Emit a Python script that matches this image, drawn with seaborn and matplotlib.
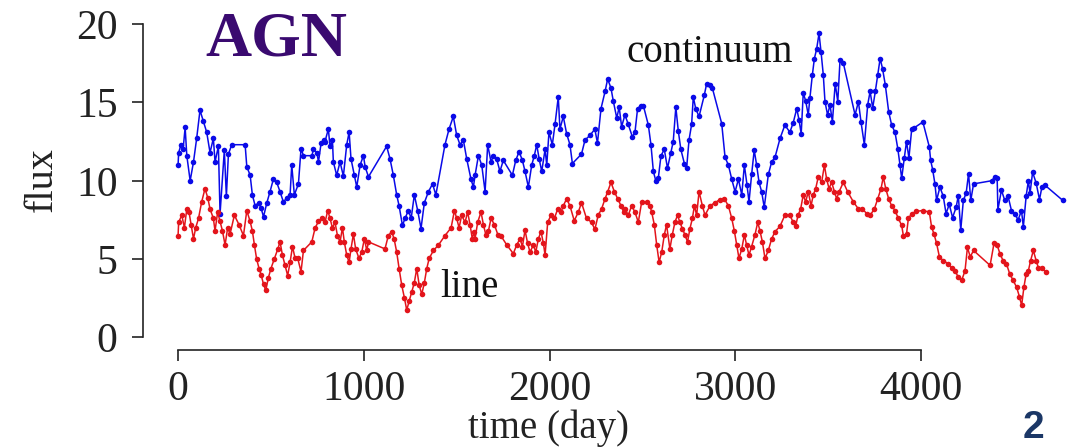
import numpy as np
import pandas as pd
import matplotlib
matplotlib.use("Agg")
import matplotlib.pyplot as plt
import seaborn as sns

# ---- data (day, flux) ----
cont_day = [0, 3, 16, 27, 38, 47, 65, 83, 100, 118, 136, 154, 172, 190, 199, 217, 226, 249, 260, 271,
            289, 361, 370, 388, 400, 415, 433, 447, 460, 478, 495, 513, 531, 549, 567, 585, 603, 612, 626, 648,
            662, 675, 720, 729, 747, 756, 770, 783, 791, 809, 818, 831, 836, 854, 872, 890, 908, 921, 931, 949,
            962, 980, 998, 1007, 1025, 1123, 1141, 1159, 1177, 1190, 1208, 1222, 1240, 1255, 1272, 1290, 1308, 1326, 1348, 1370,
            1388, 1437, 1459, 1482, 1500, 1518, 1536, 1554, 1577, 1590, 1599, 1617, 1635, 1653, 1667, 1685, 1698, 1715, 1733, 1751,
            1800, 1818, 1836, 1854, 1868, 1886, 1904, 1918, 1931, 1944, 1958, 1976, 1985, 1997, 2015, 2030, 2047, 2056, 2074, 2092,
            2110, 2123, 2172, 2191, 2218, 2244, 2258, 2277, 2299, 2313, 2331, 2343, 2362, 2375, 2388, 2406, 2424, 2446, 2460, 2474,
            2492, 2505, 2532, 2546, 2559, 2572, 2586, 2600, 2618, 2635, 2653, 2666, 2680, 2693, 2707, 2726, 2738, 2751, 2765, 2774,
            2787, 2805, 2833, 2846, 2864, 2877, 2927, 2945, 2963, 2981, 2999, 3017, 3035, 3049, 3063, 3074, 3088, 3102, 3115, 3128,
            3142, 3156, 3178, 3196, 3214, 3241, 3267, 3294, 3312, 3331, 3343, 3355, 3366, 3379, 3393, 3402, 3415, 3426, 3438, 3451,
            3462, 3474, 3483, 3497, 3510, 3523, 3538, 3552, 3564, 3582, 3645, 3663, 3677, 3695, 3713, 3726, 3740, 3754, 3767, 3780,
            3793, 3808, 3826, 3842, 3860, 3875, 3887, 3896, 3910, 3922, 3935, 3950, 3960, 4010, 4045, 4052, 4063, 4075, 4084, 4102,
            4120, 4135, 4152, 4170, 4189, 4201, 4214, 4228, 4243, 4256, 4268, 4283, 4380, 4398, 4410, 4414, 4433, 4451, 4469, 4487,
            4505, 4523, 4541, 4551, 4566, 4578, 4587, 4601, 4620, 4638, 4651, 4669, 4763]
cont_flux = [11.0, 11.8, 12.3, 12.0, 13.4, 11.6, 10.0, 11.2, 12.7, 14.5, 13.8, 13.1, 11.8, 12.7, 11.2, 12.2, 7.9, 11.95, 9.0, 11.7,
             12.3, 12.3, 10.9, 10.35, 9.1, 8.4, 8.6, 8.25, 7.7, 8.6, 9.3, 10.1, 9.9, 9.3, 8.65, 8.9, 9.1, 11.0, 9.1, 9.8,
             12.05, 11.6, 11.6, 12.0, 11.8, 11.2, 12.4, 12.6, 12.5, 13.3, 12.2, 12.6, 11.2, 10.35, 11.2, 10.3, 12.3, 13.1, 11.4, 10.35,
             9.6, 11.0, 11.6, 10.9, 10.25, 12.2, 11.4, 10.35, 9.1, 8.4, 7.15, 7.6, 8.1, 7.6, 9.1, 8.1, 6.95, 8.6, 9.3, 9.8,
             9.1, 12.3, 13.3, 14.1, 12.9, 12.3, 12.6, 11.4, 10.1, 9.6, 10.35, 11.6, 11.0, 9.3, 12.3, 11.2, 11.6, 11.4, 10.6, 11.3,
             10.35, 11.3, 11.85, 11.3, 10.6, 9.6, 11.0, 11.6, 12.3, 11.4, 10.6, 12.0, 11.0, 13.1, 12.3, 13.65, 15.35, 13.3, 14.1, 13.0,
             12.3, 11.1, 11.7, 12.6, 12.9, 13.3, 12.4, 14.6, 15.7, 16.5, 15.9, 15.1, 14.0, 14.7, 13.45, 14.2, 13.6, 12.8, 13.1, 14.6,
             14.8, 14.8, 13.55, 12.3, 10.6, 10.0, 10.2, 11.6, 12.0, 10.8, 11.8, 12.5, 14.7, 13.2, 12.0, 11.1, 10.8, 12.6, 13.6, 15.35,
             14.6, 14.1, 15.45, 16.2, 16.1, 15.9, 13.65, 11.5, 11.0, 10.1, 9.3, 10.1, 9.1, 11.0, 9.75, 8.65, 10.4, 11.95, 11.0, 9.9,
             9.3, 8.3, 10.4, 11.2, 11.5, 12.7, 13.55, 13.1, 13.7, 14.6, 13.9, 13.0, 15.6, 15.1, 14.2, 15.3, 16.75, 17.8, 18.4, 19.4,
             18.2, 16.75, 15.05, 14.2, 14.85, 13.75, 16.2, 15.05, 17.7, 17.5, 14.2, 15.05, 13.75, 12.3, 14.85, 15.7, 14.65, 15.7, 16.75, 17.8,
             17.15, 16.1, 14.4, 13.55, 13.1, 12.05, 11.0, 10.15, 11.45, 12.5, 11.45, 13.3, 13.35, 13.75, 12.15, 11.3, 10.7, 9.8, 8.75, 9.6,
             9.0, 7.9, 8.5, 7.65, 8.3, 9.05, 6.85, 8.75, 9.2, 10.45, 8.75, 9.8, 10.0, 10.25, 10.2, 8.15, 9.4, 8.75, 9.0, 8.1,
             7.9, 7.5, 8.1, 7.05, 9.0, 10.0, 9.2, 10.55, 9.85, 8.8, 9.6, 9.7, 8.75]

line_day = [0, 3, 20, 34, 47, 59, 70, 83, 95, 110, 127, 145, 160, 172, 190, 199, 213, 226, 239, 253,
            267, 280, 303, 328, 352, 370, 388, 400, 411, 423, 436, 447, 460, 472, 486, 500, 518, 537, 549, 562,
            576, 590, 603, 616, 630, 644, 662, 675, 720, 738, 756, 774, 791, 806, 818, 831, 845, 858, 872, 885,
            895, 908, 921, 931, 944, 956, 974, 989, 1003, 1016, 1025, 1114, 1132, 1150, 1163, 1177, 1190, 1204, 1219, 1231,
            1244, 1258, 1272, 1285, 1298, 1312, 1326, 1339, 1352, 1375, 1402, 1437, 1470, 1488, 1500, 1513, 1527, 1545, 1559, 1572,
            1584, 1595, 1599, 1613, 1631, 1644, 1657, 1671, 1685, 1703, 1722, 1740, 1770, 1805, 1823, 1841, 1854, 1868, 1882, 1895,
            1913, 1926, 1940, 1954, 1967, 1976, 1990, 2008, 2026, 2044, 2062, 2074, 2092, 2110, 2133, 2155, 2172, 2199, 2226, 2244,
            2262, 2280, 2299, 2313, 2331, 2349, 2367, 2385, 2399, 2406, 2424, 2442, 2460, 2478, 2496, 2523, 2541, 2550, 2564, 2577,
            2590, 2604, 2618, 2630, 2648, 2661, 2675, 2689, 2702, 2715, 2729, 2743, 2756, 2769, 2780, 2792, 2805, 2823, 2837, 2864,
            2890, 2917, 2941, 2963, 2981, 2995, 3008, 3020, 3035, 3049, 3061, 3074, 3088, 3106, 3121, 3133, 3146, 3160, 3178, 3196,
            3214, 3241, 3267, 3294, 3312, 3325, 3338, 3352, 3366, 3379, 3393, 3408, 3420, 3433, 3447, 3465, 3480, 3492, 3505, 3519,
            3534, 3546, 3559, 3582, 3605, 3636, 3663, 3685, 3708, 3726, 3749, 3767, 3785, 3797, 3810, 3826, 3842, 3860, 3878, 3896,
            3905, 3922, 3932, 3950, 3975, 4010, 4045, 4057, 4070, 4084, 4099, 4120, 4147, 4165, 4183, 4201, 4219, 4237, 4250, 4265,
            4283, 4372, 4393, 4410, 4425, 4442, 4460, 4478, 4496, 4515, 4530, 4542, 4554, 4566, 4578, 4590, 4605, 4620, 4632, 4650,
            4673]
line_flux = [6.5, 7.35, 7.8, 7.0, 8.2, 8.0, 7.2, 6.3, 7.0, 7.6, 8.65, 9.5, 8.9, 8.2, 7.6, 6.8, 8.0, 7.4, 6.8, 5.9,
             7.0, 6.6, 7.8, 7.2, 6.5, 8.1, 7.4, 6.8, 5.9, 5.0, 4.4, 4.0, 3.4, 3.0, 3.8, 4.4, 5.0, 5.65, 6.1, 5.25,
             4.6, 3.95, 4.8, 5.8, 5.05, 5.05, 4.2, 5.55, 6.1, 7.0, 7.4, 7.6, 7.35, 8.1, 7.6, 7.0, 7.35, 6.5, 6.1, 7.0,
             6.1, 5.25, 4.8, 5.65, 6.6, 5.65, 5.05, 5.45, 6.3, 5.55, 6.1, 5.65, 6.5, 6.75, 6.3, 5.45, 4.4, 3.35, 2.5, 1.75,
             2.3, 2.9, 3.5, 4.4, 3.35, 2.75, 3.5, 4.4, 5.05, 5.55, 5.9, 6.5, 7.0, 8.1, 7.6, 7.0, 7.8, 7.35, 8.0, 7.2,
             6.3, 6.75, 6.3, 7.35, 8.0, 7.2, 6.55, 6.8, 7.6, 7.2, 6.55, 6.45, 5.9, 5.35, 5.9, 6.3, 5.8, 6.85, 6.0, 5.45,
             5.9, 5.45, 6.3, 6.75, 6.0, 5.25, 7.35, 7.8, 7.6, 8.2, 8.0, 8.4, 8.85, 8.4, 7.45, 8.0, 8.6, 7.6, 7.35, 6.9,
             7.8, 8.2, 8.85, 9.3, 9.9, 9.3, 8.85, 8.4, 8.0, 8.2, 7.8, 8.4, 8.0, 7.35, 8.65, 8.65, 8.4, 8.0, 7.2, 5.9,
             4.8, 5.45, 6.55, 7.2, 5.65, 6.55, 7.35, 7.8, 7.35, 6.95, 6.55, 6.1, 6.95, 7.6, 8.4, 7.8, 9.3, 8.4, 7.8, 8.4,
             8.6, 8.8, 8.85, 8.4, 7.6, 6.8, 5.9, 5.05, 5.65, 6.55, 5.9, 5.25, 5.8, 6.55, 7.35, 6.8, 6.1, 5.05, 5.55, 6.3,
             6.75, 7.1, 7.8, 7.8, 7.35, 7.1, 7.8, 8.2, 9.1, 8.65, 9.3, 8.4, 9.1, 9.5, 10.25, 9.9, 11.0, 10.1, 9.5, 9.9,
             9.3, 8.85, 9.3, 9.9, 9.3, 8.65, 8.2, 8.2, 7.9, 7.8, 8.2, 8.85, 9.5, 10.25, 9.5, 8.85, 8.4, 8.1, 7.6, 7.15,
             6.5, 6.6, 7.6, 7.9, 8.05, 8.1, 8.0, 7.05, 6.6, 6.0, 5.15, 4.9, 4.7, 4.45, 4.25, 3.85, 3.65, 4.25, 5.75, 5.15,
             5.55, 4.6, 6.0, 5.9, 5.35, 4.9, 4.7, 4.05, 3.65, 3.2, 2.6, 2.05, 3.2, 4.05, 4.25, 4.9, 5.55, 4.9, 4.45, 4.45,
             4.15]

x_ticks = [0, 1000, 2000, 3000, 4000]
y_ticks = [0, 5, 10, 15, 20]

cont = pd.DataFrame({"day": cont_day, "flux": cont_flux})
line = pd.DataFrame({"day": line_day, "flux": line_flux})

sns.set_style("white")
plt.rcParams["font.family"] = ["Liberation Serif", "DejaVu Serif"]

W, H = 1076, 448
fig = plt.figure(figsize=(W / 100, H / 100), dpi=100)
# axes box in pixels: left 142.7, right 1098, top 11.5, bottom 350
ax = fig.add_axes([142.7 / W, (H - 350) / H, (1098 - 142.7) / W, (350 - 11.5) / H])

blue = "#0a0ae8"
red = "#e3141b"
sns.lineplot(data=cont, x="day", y="flux", ax=ax, color=blue, linewidth=1.1,
             marker="o", markersize=4.0, markeredgewidth=0, sort=False, estimator=None)
sns.lineplot(data=line, x="day", y="flux", ax=ax, color=red, linewidth=1.1,
             marker="o", markersize=4.0, markeredgewidth=0, sort=False, estimator=None)

ax.set_xlim(-190.5, 4953)
ax.set_ylim(-0.8, 20.8)
ax.set_xticks(x_ticks)
ax.set_yticks(y_ticks)
ax.set_xticklabels([str(v) for v in x_ticks])
ax.set_yticklabels([str(v) for v in y_ticks])
ax.set_xlabel("")
ax.set_ylabel("")

for s in ["top", "right"]:
    ax.spines[s].set_visible(False)
ax.spines["left"].set_bounds(0, 20)
ax.spines["bottom"].set_bounds(0, 4000)
for s in ["left", "bottom"]:
    ax.spines[s].set_color("#222222")
    ax.spines[s].set_linewidth(1.2)
ax.tick_params(axis="both", direction="out", length=8, width=1.2, color="#222222",
               labelsize=30, labelcolor="#222222")
ax.tick_params(axis="y", pad=10)
ax.tick_params(axis="x", pad=7)
ax.tick_params(axis="both", which="both", left=True, bottom=True)

fig.text(42 / W, 1 - 180 / H, "flux", rotation=90, ha="center", va="center",
         fontsize=29, color="#222222")
fig.text(548 / W, 1 - 428 / H, "time (day)", ha="center", va="center",
         fontsize=28, color="#222222")

ax.text(0.14, 0.915, "AGN", transform=ax.transAxes, ha="center", va="center",
        fontsize=46, fontweight="bold", color="#3a0a70")
ax.text(2860, 18.2, "continuum", ha="center", va="center", fontsize=28, color="#111111")
ax.text(1570, 3.2, "line", ha="center", va="center", fontsize=28, color="#111111")

fig.text(1033 / W, 1 - 446 / H, "2", ha="center", va="bottom", fontsize=28,
         fontweight="bold", color="#1b3766", family=["Liberation Sans", "DejaVu Sans"])

fig.savefig("out.png", dpi=100)
